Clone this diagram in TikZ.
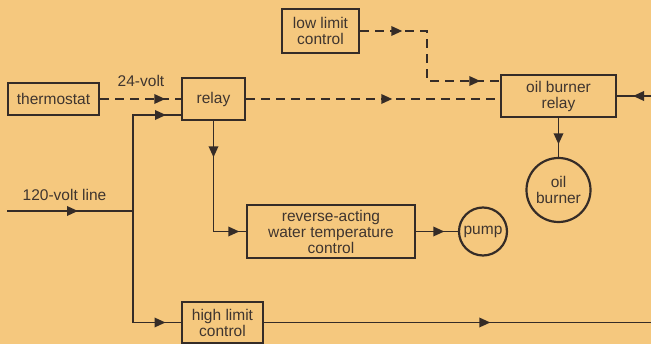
\documentclass[tikz,border=0pt]{standalone}
\usepackage{fontspec}
\setmainfont{Liberation Sans}
\usetikzlibrary{arrows.meta,decorations.markings}
\definecolor{bg}{HTML}{F5C87E}
\definecolor{ink}{HTML}{352C27}
\definecolor{txt}{HTML}{3F352F}
\begin{document}
\begin{tikzpicture}[x=1pt,y=-1pt,
  lab/.style={text=txt,font=\fontsize{15.5}{16}\selectfont,inner sep=0pt,align=center},
  box/.style={lab,draw=ink,line width=2.6pt,rectangle},
  circ/.style={lab,draw=ink,line width=2.2pt,circle},
  wire/.style={draw=ink,color=ink,line width=1.8pt},
  dwire/.style={wire,dash pattern=on 9pt off 6pt},
  arr/.style={postaction={decorate},decoration={markings,
     mark=at position #1 with {\arrow{Triangle[length=11pt,width=9.5pt]}}}},
  arrtwo/.style 2 args={postaction={decorate},decoration={markings,
     mark=at position #1 with {\arrow{Triangle[length=11pt,width=9.5pt]}},
     mark=at position #2 with {\arrow{Triangle[length=11pt,width=9.5pt]}}}}]
\fill[bg] (0,0) rectangle (651,344);
\useasboundingbox (0,0) rectangle (651,344);

% nodes
\node[box,minimum width=91pt,minimum height=32pt] (thermo) at (53.5,99) {thermostat};
\node[box,minimum width=63pt,minimum height=42pt] (relay) at (213.5,99) {relay};
\node[box,minimum width=77pt,minimum height=44pt] (lowlim) at (320.5,31) {low limit\\control};
\node[box,minimum width=115pt,minimum height=42pt] (obr) at (558.5,96) {oil burner\\relay};
\node[circ,minimum size=64pt] (oilb) at (558.5,190) {oil\\burner};
\node[box,minimum width=168pt,minimum height=53pt] (rev) at (331,231.5) {reverse-acting\\water temperature\\control};
\node[circ,minimum size=48pt] (pump) at (483,231.5) {pump};
\node[box,minimum width=81pt,minimum height=41pt] (high) at (222.5,322.5) {high limit\\control};

% labels
\node[lab] (lbl24) at (141,81) {24-volt};
\node[lab] (lbl120) at (64.5,195) {120-volt line};

% coordinates
\coordinate (in) at (7,211);
\coordinate (j) at (133,211);
\coordinate (rin) at (182,115);
\coordinate (turn) at (427,31);
\coordinate (obrin) at (501,81);
\coordinate (rtin) at (651,96);
\coordinate (rtout) at (651,322.5);

% connectors
\path[dwire,arr=65pt] (thermo.east) -- (relay.west);
\path[wire,arr=71pt] (in) -- (j);
\path[wire,arr=129pt] (j) |- (rin);
\path[wire,arr=144pt] (j) |- (high.west);
\path[wire,arrtwo={36pt}{136pt}] (relay.south) |- (rev.west);
\path[wire,arr=28pt] (rev.east) -- (pump.west);
\path[wire,arr=226pt] (high.east) -- (rtout);
\path[dwire,arr=146pt] (relay.east) -- (relay.east -| obr.west);
\path[dwire,arrtwo={42pt}{170pt}] (lowlim.east) -- (turn) |- (obrin);
\path[wire,arr=18pt] (rtin) -- (obr.east);
\path[wire,arr=26pt] (obr.south) -- (oilb.north);
\end{tikzpicture}
\end{document}
